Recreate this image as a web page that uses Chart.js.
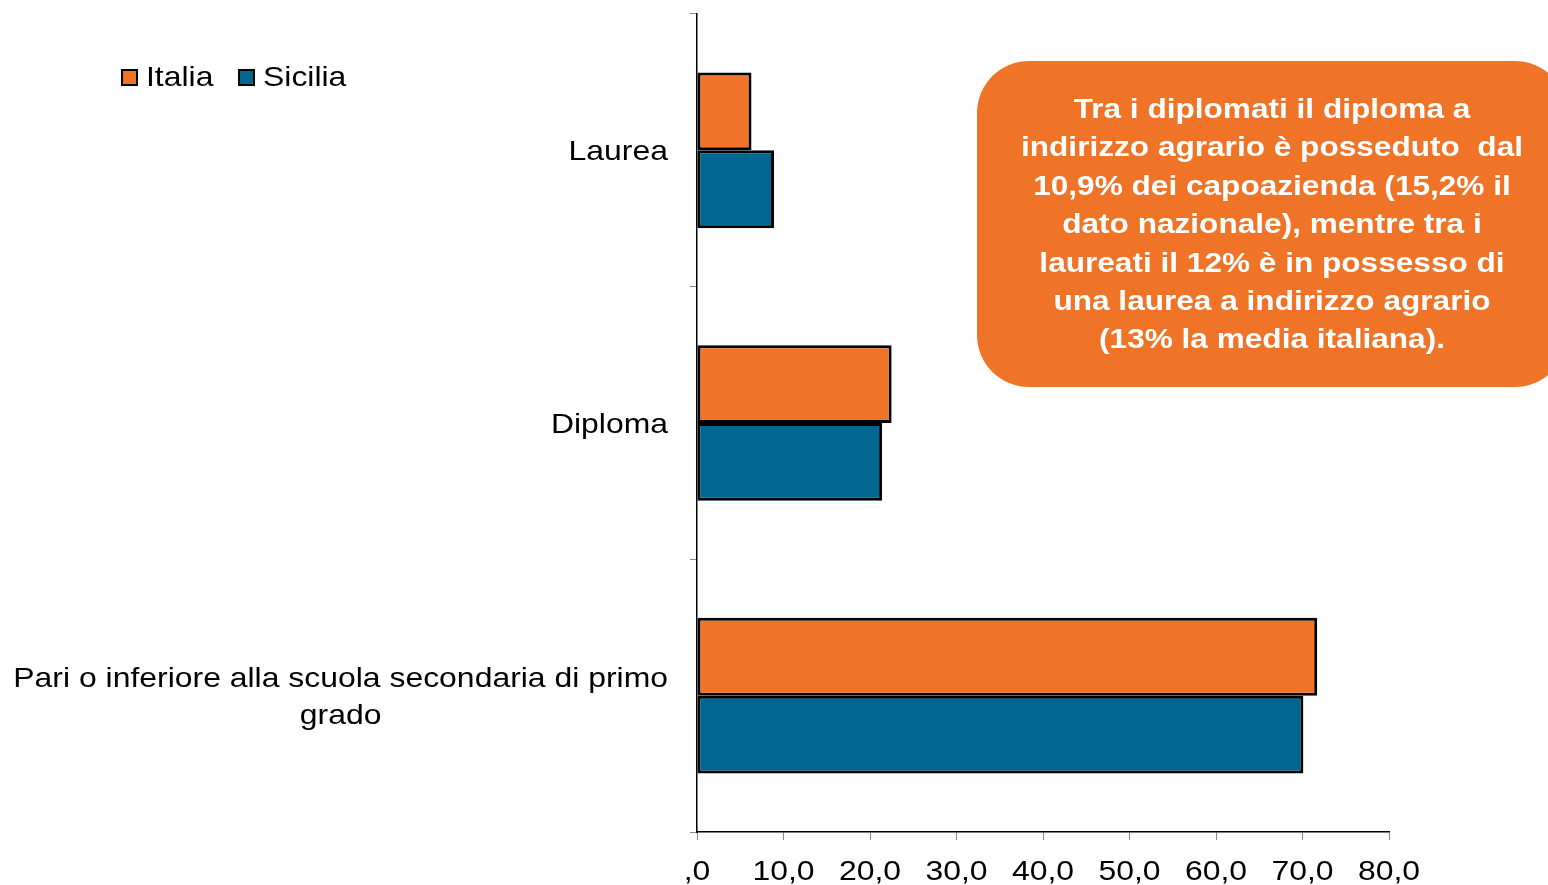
<!DOCTYPE html>
<html>
<head>
<meta charset="utf-8">
<script src="https://cdn.jsdelivr.net/npm/chart.js@4"></script>
<style>
  html, body { margin: 0; padding: 0; background: #fff; overflow: hidden; }
  #wrap { position: absolute; left: 0; top: 0; width: 1548px; height: 885px; }
  #legend { position: absolute; left: 121px; top: 61px; font: 28px "Liberation Sans", Arial, sans-serif; color: #000; display: flex; }
  #legend .item { display: flex; align-items: center; margin-right: 33px; }
  #legend .box { width: 13px; height: 13px; border: 2px solid #000; margin-right: 8px; }
  #legend .txt { display: inline-block; transform: scaleX(1.14); transform-origin: left center; }
  #note {
    position: absolute; left: 977px; top: 61px; width: 590px; height: 326px;
    background: #f07428; border-radius: 52px; color: #fff;
    font: bold 27px "Liberation Sans", Arial, sans-serif; line-height: 38.4px;
    text-align: center; box-sizing: border-box; padding-top: 29px;
  }
  #note div { transform: scaleX(1.17); transform-origin: 295px 0; }
</style>
</head>
<body>
<div id="wrap"><canvas id="chart"></canvas></div>
<div id="legend"></div>
<div id="note"><div>Tra i diplomati il diploma a<br>indirizzo agrario è posseduto&nbsp; dal<br>10,9% dei capoazienda (15,2% il<br>dato nazionale), mentre tra i<br>laureati il 12% è in possesso di<br>una laurea a indirizzo agrario<br>(13% la media italiana).</div></div>
<script>
const categories = ["Laurea", "Diploma", ["Pari o inferiore alla scuola secondaria di primo", "grado"]];
const seriesNames = ["Italia", "Sicilia"];
const italia = [6.3, 22.5, 71.7];
const sicilia = [8.9, 21.4, 70.1];
const xMin = 0;
const xMax = 80;
const xStep = 10;

const colors = ["#f07428", "#006890"];
const FONT = '28px "Liberation Sans", Arial, sans-serif';
const STRETCH = 1.14; // the source text is a bit wider than Liberation Sans

// legend in the top-left corner
const legendEl = document.getElementById("legend");
seriesNames.forEach((name, i) => {
  const item = document.createElement("div");
  item.className = "item";
  const box = document.createElement("span");
  box.className = "box";
  box.style.background = colors[i];
  const txt = document.createElement("span");
  txt.className = "txt";
  txt.textContent = name;
  item.appendChild(box);
  item.appendChild(txt);
  legendEl.appendChild(item);
});

function stretchedText(ctx, text, x, y) {
  ctx.save();
  ctx.translate(x, y);
  ctx.scale(STRETCH, 1);
  ctx.fillText(text, 0, 0);
  ctx.restore();
}

// axis labels drawn by hand: y block right-aligned with lines centered, x labels widened
const axisLabelPlugin = {
  id: "axisLabelPlugin",
  afterDraw(c) {
    const { ctx, scales, chartArea } = c;
    const y = scales.y;
    const x = scales.x;
    ctx.save();
    ctx.font = FONT;
    ctx.fillStyle = "#000";
    ctx.textAlign = "center";
    ctx.textBaseline = "middle";

    const right = chartArea.left - 29;
    const lineH = 37;
    categories.forEach((lab, i) => {
      const lines = Array.isArray(lab) ? lab : [lab];
      const w = Math.max(...lines.map(l => ctx.measureText(l).width)) * STRETCH;
      const cx = right - w / 2;
      const cy = y.getPixelForValue(i) + 2;
      lines.forEach((l, k) => {
        stretchedText(ctx, l, cx, cy + (k - (lines.length - 1) / 2) * lineH);
      });
    });

    x.ticks.forEach((t) => {
      const v = t.value;
      const lab = v === 0 ? ",0" : v.toFixed(1).replace(".", ",");
      stretchedText(ctx, lab, x.getPixelForValue(v), chartArea.bottom + 40);
    });
    ctx.restore();
  }
};

new Chart(document.getElementById("chart"), {
  type: "bar",
  data: {
    labels: categories,
    datasets: [
      { label: seriesNames[0], data: italia, backgroundColor: colors[0] },
      { label: seriesNames[1], data: sicilia, backgroundColor: colors[1] }
    ]
  },
  options: {
    indexAxis: "y",
    responsive: true,
    maintainAspectRatio: false,
    animation: false,
    datasets: {
      bar: {
        barPercentage: 1,
        categoryPercentage: 0.571,
        borderColor: "#000",
        borderWidth: 3,
        borderSkipped: false
      }
    },
    layout: { padding: { top: 14, right: 159, left: 0, bottom: 0 } },
    plugins: {
      legend: { display: false },
      tooltip: { enabled: false }
    },
    scales: {
      x: {
        min: xMin,
        max: xMax,
        ticks: { stepSize: xStep, display: false },
        grid: { drawOnChartArea: false, tickLength: 8, color: "#888" },
        border: { color: "#000", width: 1.5 },
        afterFit(s) { s.height = 53; }
      },
      y: {
        ticks: { display: false },
        grid: { drawOnChartArea: false, tickLength: 7, color: "#888" },
        border: { color: "#000", width: 1.5 },
        afterFit(s) { s.width = 697; }
      }
    }
  },
  plugins: [axisLabelPlugin]
});
</script>
</body>
</html>
